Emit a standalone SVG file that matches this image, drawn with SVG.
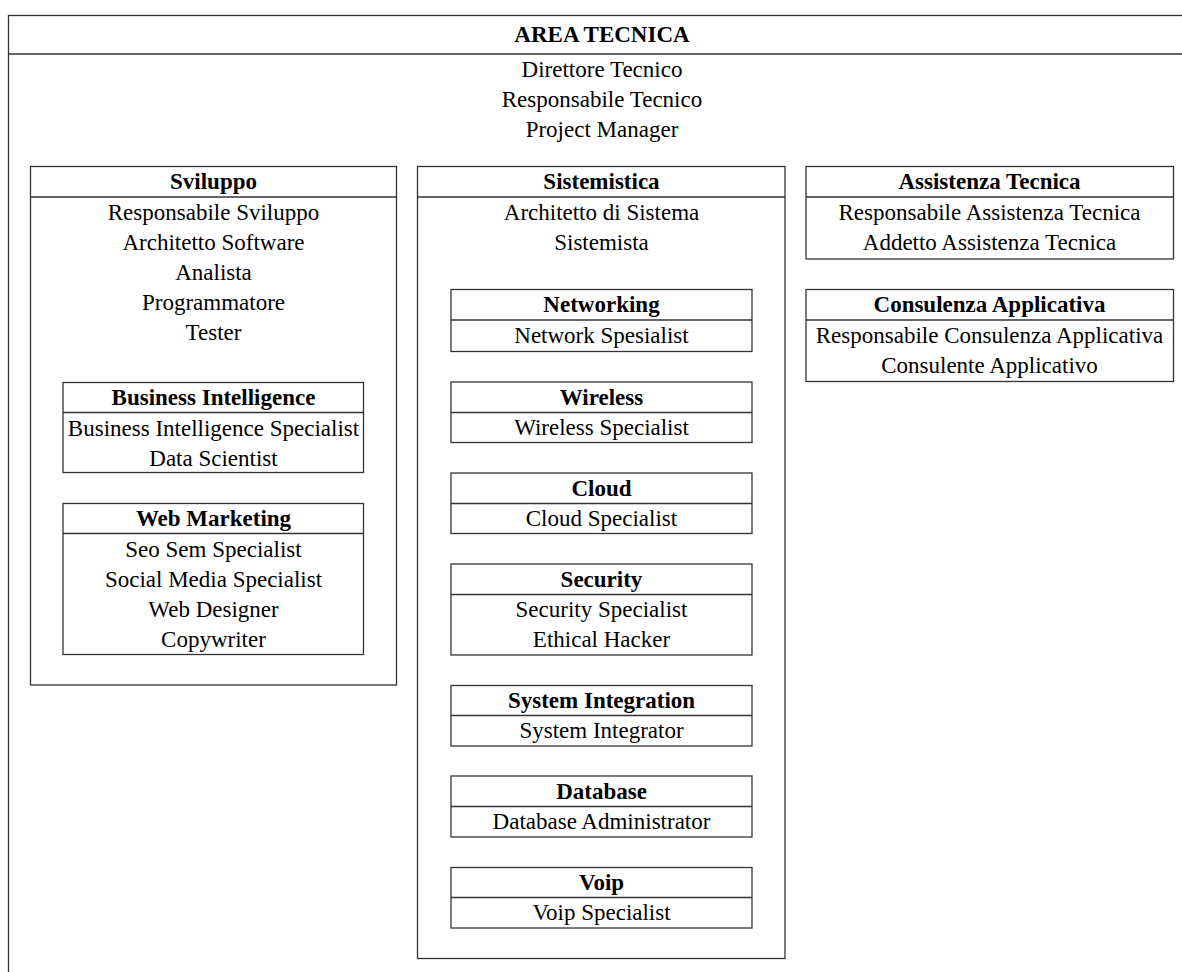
<svg xmlns="http://www.w3.org/2000/svg" width="1182" height="972" viewBox="0 0 1182 972">
<style>
rect,line{fill:none;stroke:#333;stroke-width:1.3}
text{font-size:23px;text-anchor:middle;fill:#000}
.h{font-weight:bold}
</style>
<rect x="0" y="0" width="1182" height="972" style="fill:#fff;stroke:none"/>
<g font-family="Liberation Serif, Times New Roman, serif">
<g id="area">
<rect x="8.5" y="15.5" width="1200" height="1000"/>
<line x1="8.5" y1="54" x2="1182" y2="54"/>
<text class="h" x="602" y="42">AREA TECNICA</text>
<text x="602" y="77">Direttore Tecnico</text>
<text x="602" y="107">Responsabile Tecnico</text>
<text x="602" y="137">Project Manager</text>
</g>
<g id="sviluppo">
<rect x="30.5" y="166.5" width="366" height="518.5"/>
<line x1="30.5" y1="197" x2="396.5" y2="197"/>
<text class="h" x="213.5" y="189">Sviluppo</text>
<text x="213.5" y="220">Responsabile Sviluppo</text>
<text x="213.5" y="250">Architetto Software</text>
<text x="213.5" y="280">Analista</text>
<text x="213.5" y="310">Programmatore</text>
<text x="213.5" y="340">Tester</text>
</g>
<g id="bi">
<rect x="63" y="382.5" width="300.5" height="90"/>
<line x1="63" y1="412.5" x2="363.5" y2="412.5"/>
<text class="h" x="213.5" y="405">Business Intelligence</text>
<text x="213.5" y="436">Business Intelligence Specialist</text>
<text x="213.5" y="466">Data Scientist</text>
</g>
<g id="webmarketing">
<rect x="63" y="503.5" width="300.5" height="151"/>
<line x1="63" y1="533.5" x2="363.5" y2="533.5"/>
<text class="h" x="213.5" y="526">Web Marketing</text>
<text x="213.5" y="557">Seo Sem Specialist</text>
<text x="213.5" y="587">Social Media Specialist</text>
<text x="213.5" y="617">Web Designer</text>
<text x="213.5" y="647">Copywriter</text>
</g>
<g id="sistemistica">
<rect x="417.5" y="166.5" width="367.5" height="792"/>
<line x1="417.5" y1="197" x2="785" y2="197"/>
<text class="h" x="601.5" y="189">Sistemistica</text>
<text x="601.5" y="220">Architetto di Sistema</text>
<text x="601.5" y="250">Sistemista</text>
</g>
<g id="networking">
<rect x="451" y="289.5" width="301" height="62"/>
<line x1="451" y1="320" x2="752" y2="320"/>
<text class="h" x="601.5" y="312">Networking</text>
<text x="601.5" y="343">Network Spesialist</text>
</g>
<g id="wireless">
<rect x="451" y="382" width="301" height="60.5"/>
<line x1="451" y1="412.5" x2="752" y2="412.5"/>
<text class="h" x="601.5" y="405">Wireless</text>
<text x="601.5" y="435">Wireless Specialist</text>
</g>
<g id="cloud">
<rect x="451" y="473" width="301" height="60.5"/>
<line x1="451" y1="503.5" x2="752" y2="503.5"/>
<text class="h" x="601.5" y="496">Cloud</text>
<text x="601.5" y="526">Cloud Specialist</text>
</g>
<g id="security">
<rect x="451" y="564" width="301" height="91"/>
<line x1="451" y1="594.5" x2="752" y2="594.5"/>
<text class="h" x="601.5" y="587">Security</text>
<text x="601.5" y="617">Security Specialist</text>
<text x="601.5" y="647">Ethical Hacker</text>
</g>
<g id="sysint">
<rect x="451" y="685.5" width="301" height="60.5"/>
<line x1="451" y1="715.5" x2="752" y2="715.5"/>
<text class="h" x="601.5" y="708">System Integration</text>
<text x="601.5" y="738">System Integrator</text>
</g>
<g id="database">
<rect x="451" y="776" width="301" height="61"/>
<line x1="451" y1="806.5" x2="752" y2="806.5"/>
<text class="h" x="601.5" y="799">Database</text>
<text x="601.5" y="829">Database Administrator</text>
</g>
<g id="voip">
<rect x="451" y="867.5" width="301" height="60.5"/>
<line x1="451" y1="897.5" x2="752" y2="897.5"/>
<text class="h" x="601.5" y="890">Voip</text>
<text x="601.5" y="920">Voip Specialist</text>
</g>
<g id="assistenza">
<rect x="806" y="166.5" width="367.5" height="92.5"/>
<line x1="806" y1="197" x2="1173.5" y2="197"/>
<text class="h" x="989.5" y="189">Assistenza Tecnica</text>
<text x="989.5" y="220">Responsabile Assistenza Tecnica</text>
<text x="989.5" y="250">Addetto Assistenza Tecnica</text>
</g>
<g id="consulenza">
<rect x="806" y="289.5" width="367.5" height="92"/>
<line x1="806" y1="320" x2="1173.5" y2="320"/>
<text class="h" x="989.5" y="312">Consulenza Applicativa</text>
<text x="989.5" y="343">Responsabile Consulenza Applicativa</text>
<text x="989.5" y="373">Consulente Applicativo</text>
</g>
</g>
<g id="connectors"></g>
</svg>
